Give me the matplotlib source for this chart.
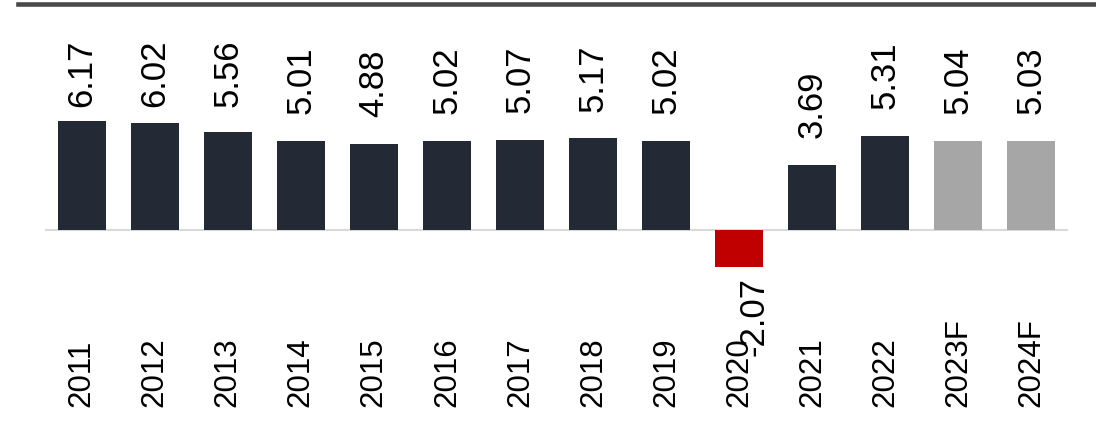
import matplotlib.pyplot as plt
from matplotlib.transforms import blended_transform_factory
from matplotlib.lines import Line2D

years = ['2011', '2012', '2013', '2014', '2015', '2016', '2017', '2018', '2019',
         '2020', '2021', '2022', '2023F', '2024F']
growth = [6.17, 6.02, 5.56, 5.01, 4.88, 5.02, 5.07, 5.17, 5.02,
          -2.07, 3.69, 5.31, 5.04, 5.03]

colors = []
for y, v in zip(years, growth):
    if y.endswith('F'):
        colors.append('#a6a6a6')
    elif v < 0:
        colors.append('#c00000')
    else:
        colors.append('#242a35')

fig = plt.figure(figsize=(10.96, 4.27), dpi=100)
ax = fig.add_axes([45/1096, 1 - 337.2/427, 1023/1096, (337.2 - 89.4)/427])

x = list(range(len(years)))
ax.bar(x, growth, width=0.657, color=colors, zorder=2)
ax.axhline(0, color='#d9d9d9', lw=1.5, zorder=1)
ax.set_xlim(-0.5, len(years) - 0.5)
ax.set_ylim(-6, 8)
ax.axis('off')

# value labels (kept below a ceiling near the top)
for i, v in enumerate(growth):
    if v >= 0:
        ax.text(i, min(v + 1.58, 7.0), f'{v:.2f}', rotation=90, ha='center',
                va='bottom', fontsize=25, family='Liberation Sans', color='black')
    else:
        ax.annotate(f'{v:.2f}', (i, v), xytext=(11, -7), textcoords='offset points',
                    rotation=90, ha='center', va='top', fontsize=25,
                    family='Liberation Sans', color='black')

# category labels, bottom aligned
tr = blended_transform_factory(ax.transData, fig.transFigure)
for i, y in enumerate(years):
    ax.text(i, 1 - 407/427, y, transform=tr, rotation=90, ha='center', va='bottom',
            fontsize=22.5, family='Liberation Sans', color='black')

# top rule
fig.add_artist(Line2D([18/1096, 1], [1 - 4.5/427, 1 - 4.5/427],
                      transform=fig.transFigure, color='#4a4a4a', lw=3.3))

fig.savefig('out.png', dpi=100)
